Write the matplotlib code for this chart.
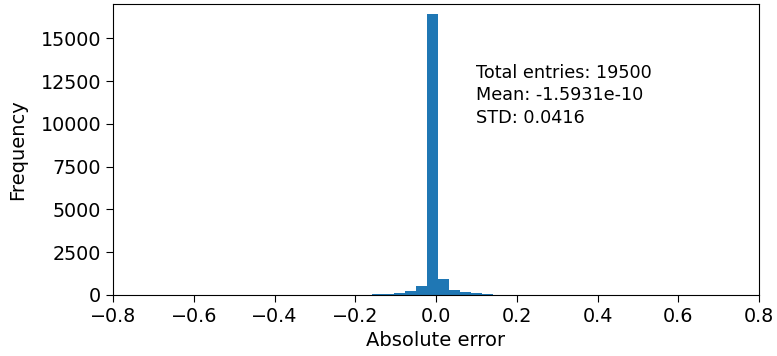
import numpy as np
import matplotlib
matplotlib.use('Agg')
import matplotlib.pyplot as plt

# histogram of absolute error, bins
bin_width = 0.0272
first_edge = -0.0223 - 8 * bin_width
counts = [4, 6, 8, 40, 60, 140, 260, 530, 16400, 940, 310, 190, 130, 60, 8, 6, 4, 4]
edges = first_edge + bin_width * np.arange(len(counts) + 1)

stats_text = 'Total entries: 19500\nMean: -1.5931e-10\nSTD: 0.0416'

fig = plt.figure(figsize=(7.77, 3.56), dpi=100)
ax = fig.add_axes([113 / 777, 1 - 295 / 356, 646 / 777, 291 / 356])
ax.hist(edges[:-1], bins=edges, weights=counts, color='#1f77b4')
ax.set_xlim(-0.8, 0.8)
ax.set_ylim(0, 17000)
ax.set_yticks([0, 2500, 5000, 7500, 10000, 12500, 15000])
ax.tick_params(labelsize=13.8, length=5)
ax.set_xlabel('Absolute error', fontsize=14)
ax.set_ylabel('Frequency', fontsize=14, labelpad=10)
ax.text(0.562, 0.793, stats_text, transform=ax.transAxes, fontsize=12.7,
        va='top', ha='left', linespacing=1.3)

fig.savefig('out.png', dpi=100)
